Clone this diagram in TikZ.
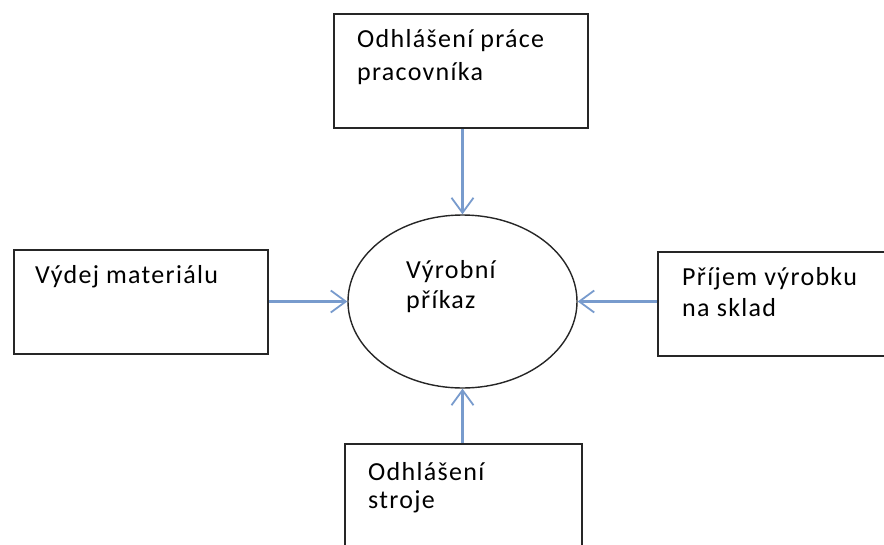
\documentclass[tikz,border=0pt]{standalone}
\usepackage{fontspec}
\setmainfont{Carlito}[LetterSpace=5]
\usetikzlibrary{arrows.meta,shapes.geometric}
\definecolor{flowblue}{RGB}{120,155,205}
\begin{document}
\begin{tikzpicture}[x=1pt,y=-1pt,
  box/.style={draw=black!85,line width=2.2pt,inner sep=0pt,anchor=north west},
  txt/.style={anchor=base west,inner sep=0pt,align=left},
  lead/.style={font=\fontsize{26}{#1}\selectfont},
  flow/.style={draw=flowblue,line width=2.2pt,-{Straight Barb[length=15pt,width=22pt,line width=1.8pt]}}]
  \useasboundingbox (0,0) rectangle (884,544);
  \clip (0,0) rectangle (884,544);
  % outer boxes
  \node[box,minimum width=254pt,minimum height=114pt] (top) at (333,13) {};
  \node[box,minimum width=254pt,minimum height=104pt] (left) at (13,249) {};
  \node[box,minimum width=240pt,minimum height=104pt] (right) at (657,251) {};
  \node[box,minimum width=237pt,minimum height=120pt] (bottom) at (344,443) {};
  % central process
  \node[draw=black!85,line width=1.4pt,ellipse,minimum width=229pt,minimum height=173pt,inner sep=0pt] (core) at (462.5,301.5) {};
  % texts (anchored at the baseline of their last line)
  \node[txt,lead=33] (ttop) at (357,80) {Odhlášení práce\\pracovníka};
  \node[txt,lead=31] (tleft) at (35,283) {Výdej materiálu};
  \node[txt,lead=31] (tright) at (682,316) {Příjem výrobku\\na sklad};
  \node[txt,lead=28] (tbottom) at (368,508) {Odhlášení\\stroje};
  \node[txt,lead=30] (tcore) at (406,308) {Výrobní\\příkaz};
  % connectors
  \draw[flow] (top.south -| core.north) -- (core.north);
  \draw[flow] (left.east |- core.west) -- (core.west);
  \draw[flow] (right.west |- core.east) -- (core.east);
  \draw[flow] (bottom.north -| core.south) -- (core.south);
\end{tikzpicture}
\end{document}
